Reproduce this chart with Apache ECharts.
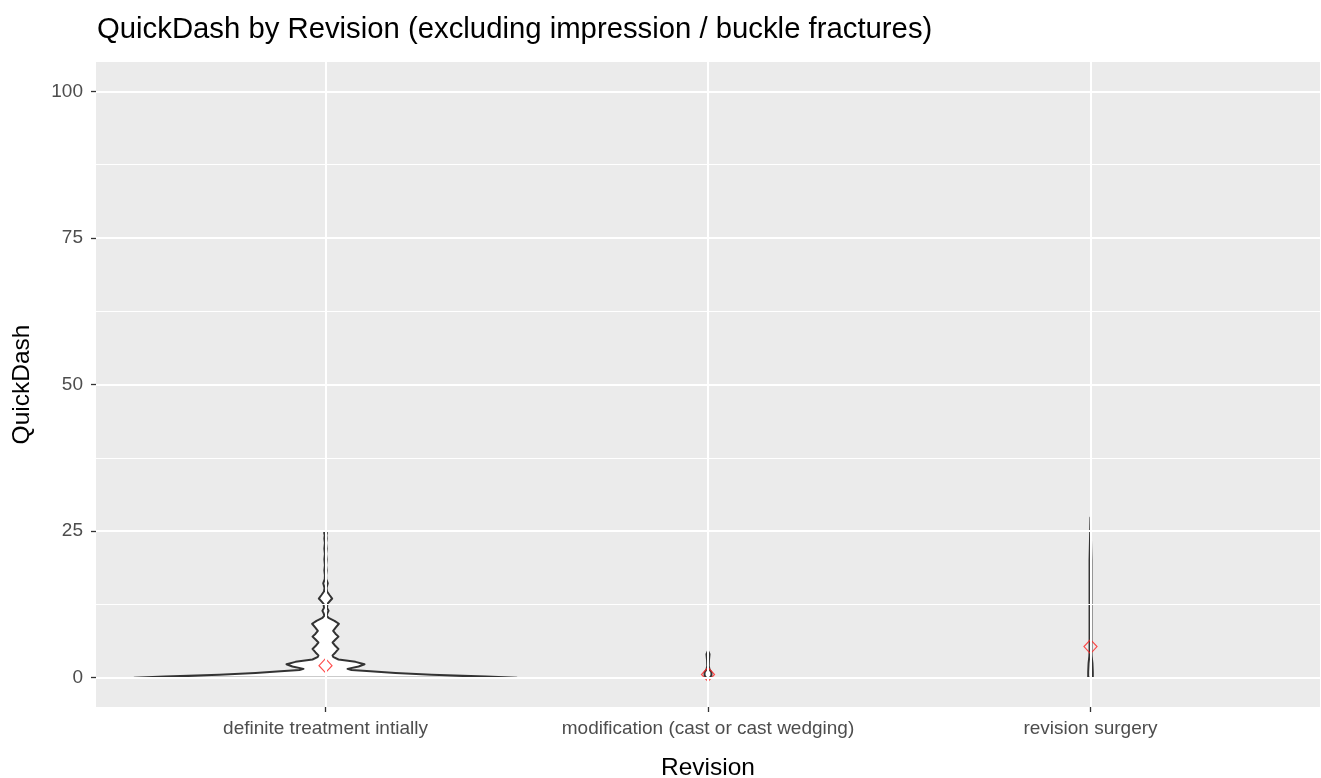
<!DOCTYPE html>
<html>
<head>
<meta charset="utf-8">
<script src="https://cdn.jsdelivr.net/npm/echarts@6/dist/echarts.min.js"></script>
<style>
html,body{margin:0;padding:0;background:#fff;}
#main{width:1321px;height:778px;}
</style>
</head>
<body>
<div id="main"></div>
<script>
// ---- data ----
const categories = ['definite treatment intially', 'modification (cast or cast wedging)', 'revision surgery'];
const categoryPositions = [0, 1, 2];
const yTicks = [0, 25, 50, 75, 100];
const yMinorGrid = [12.5, 37.5, 62.5, 87.5];
const means = [2.05, 0.55, 5.3];

// violin profiles: QuickDash value and relative density (1 = widest violin half-width)
const violin1Y = [0, 0.2, 0.5, 0.8, 1.1, 1.3, 1.5, 1.9, 2.3, 2.7, 3.1, 3.5, 3.8, 4.3, 4.9, 5.4, 6.0, 6.5, 7.0, 7.5, 8.0, 8.5, 9.2, 9.7, 10.2, 10.6, 11.0, 11.4, 11.9, 12.6, 13.0, 13.5, 14.1, 14.7, 15.3, 16.1, 16.8, 17.5, 18.3, 19.2, 20.2, 21.1, 22.0, 23.0, 23.7, 24.3, 24.7, 24.9];
const violin1D = [1.0, 0.84, 0.555, 0.366, 0.235, 0.136, 0.115, 0.173, 0.204, 0.157, 0.068, 0.042, 0.037, 0.052, 0.068, 0.052, 0.037, 0.052, 0.068, 0.052, 0.040, 0.052, 0.070, 0.047, 0.016, 0.006, 0.010, 0.016, 0.008, 0.010, 0.021, 0.035, 0.021, 0.008, 0.005, 0.012, 0.004, 0.003, 0.006, 0.003, 0.006, 0.003, 0.006, 0.003, 0.006, 0.004, 0.007, 0.0];
const violin2Y = [0, 0.4, 0.9, 1.4, 2.0, 3.0, 4.0, 4.6];
const violin2D = [0.010, 0.018, 0.018, 0.008, 0.004, 0.005, 0.008, 0.0];
const violin3Y = [0, 1.0, 2.5, 3.7, 4.5, 10.0, 20.0, 27.3];
const violin3D = [0.012, 0.012, 0.010, 0.006, 0.005, 0.005, 0.005, 0.0];

const violinY = [violin1Y, violin2Y, violin3Y];
const violinD = [violin1D, violin2D, violin3D];

const chart = echarts.init(document.getElementById('main'), null, {renderer: 'canvas'});
const FONT = '"Liberation Sans", Arial, sans-serif';

const option = {
  animation: false,
  backgroundColor: '#ffffff',
  title: {
    text: 'QuickDash by Revision (excluding impression / buckle fractures)',
    left: 92, top: 10,
    textStyle: {fontFamily: FONT, fontSize: 29.3, fontWeight: 'normal', color: '#000000'}
  },
  grid: {
    left: 96, right: 1, top: 62, bottom: 71,
    containLabel: false,
    outerBoundsMode: 'none',
    show: true, backgroundColor: '#EBEBEB', borderWidth: 0
  },
  xAxis: {
    type: 'value',
    min: -0.6, max: 2.6,
    name: 'Revision',
    nameLocation: 'middle',
    nameGap: 49,
    nameTextStyle: {fontFamily: FONT, fontSize: 24.5, color: '#000000'},
    axisLine: {show: false, onZero: false},
    axisTick: {show: true, length: 5, customValues: categoryPositions, lineStyle: {color: '#333333', width: 1.3}},
    axisLabel: {
      fontFamily: FONT, fontSize: 19, color: '#4D4D4D', margin: 12,
      customValues: categoryPositions,
      formatter: v => categories[Math.round(v)]
    },
    splitLine: {show: false}
  },
  yAxis: {
    type: 'value',
    min: -5, max: 105,
    name: 'QuickDash',
    nameLocation: 'middle',
    nameGap: 61,
    nameTextStyle: {fontFamily: FONT, fontSize: 24.5, color: '#000000'},
    axisLine: {show: false, onZero: false},
    axisTick: {show: true, length: 5, customValues: yTicks, lineStyle: {color: '#333333', width: 1.3}},
    axisLabel: {fontFamily: FONT, fontSize: 19, color: '#4D4D4D', margin: 13, customValues: yTicks},
    splitLine: {show: false}
  },
  series: [
    {
      type: 'line',
      data: [],
      z: 1,
      silent: true,
      markLine: {
        silent: true,
        symbol: ['none', 'none'],
        label: {show: false},
        animation: false,
        data: [].concat(
          yMinorGrid.map(v => ({yAxis: v, lineStyle: {color: '#FFFFFF', width: 1, type: 'solid'}})),
          yTicks.map(v => ({yAxis: v, lineStyle: {color: '#FFFFFF', width: 2, type: 'solid'}})),
          categoryPositions.map(p => ({xAxis: p, lineStyle: {color: '#FFFFFF', width: 2, type: 'solid'}}))
        )
      }
    },
    {
      type: 'custom',
      z: 3,
      data: categoryPositions.map(p => [p, 0]),
      encode: {x: 0, y: 1},
      renderItem: function (params, api) {
        const i = Math.round(api.value(0));
        const ys = violinY[i], ds = violinD[i];
        const half = api.size([1, 0])[0] / 2;
        const left = [], right = [];
        for (let k = 0; k < ys.length; k++) {
          const c = api.coord([i, ys[k]]);
          left.push([c[0] - ds[k] * half, c[1]]);
          right.push([c[0] + ds[k] * half, c[1]]);
        }
        const pts = left.concat(right.reverse());
        return {
          type: 'polygon',
          shape: {points: pts, smooth: 0},
          style: {fill: '#FFFFFF', stroke: '#333333', lineWidth: 2, lineJoin: 'round'}
        };
      }
    },
    {
      type: 'scatter',
      z: 4,
      data: means.map((m, i) => [categoryPositions[i], m]),
      symbol: 'diamond',
      symbolSize: [13, 14],
      itemStyle: {color: 'rgba(0,0,0,0)', borderColor: '#FF2020', borderWidth: 1.2}
    }
  ]
};
chart.setOption(option);
</script>
</body>
</html>
